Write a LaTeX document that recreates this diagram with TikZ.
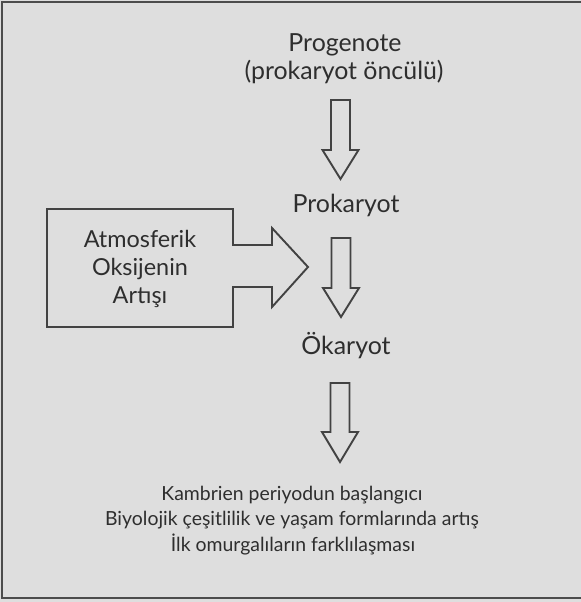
\documentclass[tikz,border=0pt]{standalone}
\usepackage{fontspec}
\setmainfont{Lato}
\begin{document}
\begin{tikzpicture}[x=1bp,y=-1bp,
  ink/.style={draw=black!74,line width=1.9bp,line join=miter},
  lbl/.style={text=black!82,inner sep=0pt,anchor=base,font=\fontsize{25}{25}\selectfont},
  boxlbl/.style={lbl,font=\fontsize{23.5}{23.5}\selectfont},
  noteline/.style={lbl,font=\fontsize{19.5}{19.5}\selectfont}]
% page and paper tone
\useasboundingbox (0,0) rectangle (581,602);
\fill[black!13] (0,0) rectangle (581,602);
% frame rules (top, left, bottom)
\draw[black!70,line width=2.5bp] (581,2) -- (2,2) -- (2,598) -- (581,598);

% labels of the main sequence
\node[lbl] (prog)  at (345,52) {Progenote};
\node[lbl] (progb) at (344,80) {(prokaryot öncülü)};
\node[lbl] (prok)  at (346,212) {Prokaryot};
\node[lbl] (euk)   at (346,354) {Ökaryot};

% outcomes
\node[noteline] (n1) at (292,500) {Kambrien periyodun başlangıcı};
\node[noteline] (n2) at (292,525.5) {Biyolojik çeşitlilik ve yaşam formlarında artış};
\node[noteline] (n3) at (293,551) {İlk omurgalıların farklılaşması};

% hollow block arrows going down: x centre, top, head base, tip
\newcommand\hollowdown[4]{%
  \draw[ink] (#1-9.5,#2) -- (#1+9.5,#2) -- (#1+9.5,#3) -- (#1+18,#3)
    -- (#1,#4) -- (#1-18,#3) -- (#1-9.5,#3) -- cycle;}
\hollowdown{340.5}{100}{150}{179}
\hollowdown{341}{238}{288}{317}
\hollowdown{340}{383}{432}{462}

% box with an arrow pointing at the second step
\draw[ink] (47,209) -- (233,209) -- (233,245) -- (272,245) -- (272,228)
  -- (308,267) -- (272,307) -- (272,287) -- (233,287) -- (233,327)
  -- (47,327) -- cycle;
\node[boxlbl] (o1) at (140,247) {Atmosferik};
\node[boxlbl] (o2) at (140,275) {Oksijenin};
\node[boxlbl] (o3) at (140,303) {Artışı};
\end{tikzpicture}
\end{document}
